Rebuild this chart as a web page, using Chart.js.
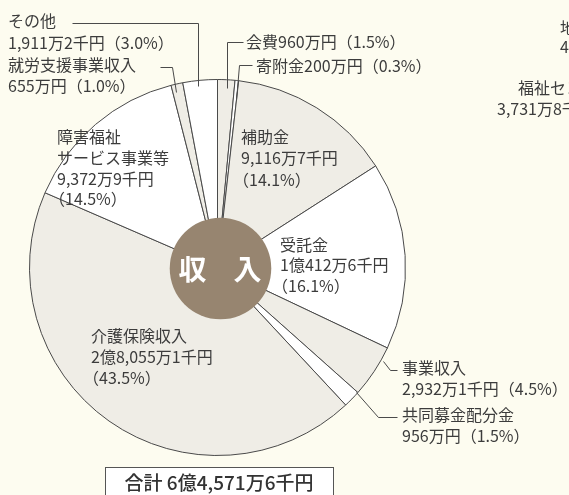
<!DOCTYPE html>
<html><head><meta charset="utf-8">
<script src="https://cdn.jsdelivr.net/npm/chart.js@4"></script>
<style>
html,body{margin:0;padding:0;background:#fdfcf0;}
#wrap{position:relative;width:569px;height:495px;overflow:hidden;}
canvas{display:block;}
</style></head>
<body><div id="wrap"><canvas id="c" width="569" height="495"></canvas></div>
<script>
// ---- data ----
const categories = ["会費","寄附金","補助金","受託金","事業収入","共同募金配分金","介護保険収入","障害福祉サービス事業等","就労支援事業収入","その他"];
const amounts = [960, 200, 9116.7, 10412.6, 2932.1, 956, 28055.1, 9372.9, 655, 1911.2]; // 万円
const amountLabels = ["960万円","200万円","9,116万7千円","1億412万6千円","2,932万1千円","956万円","2億8,055万1千円","9,372万9千円","655万円","1,911万2千円"];
const percentLabels = ["1.5%","0.3%","14.1%","16.1%","4.5%","1.5%","43.5%","14.5%","1.0%","3.0%"];
const totalLabel = "合計 6億4,571万6千円";
const centerLabel = ["収","入"];

// ---- styles ----
const GRAY = "#efede6", WHITE = "#ffffff";
const sliceColors = [GRAY, WHITE, GRAY, WHITE, GRAY, WHITE, GRAY, WHITE, GRAY, WHITE];
const FONT = '"Noto Sans CJK JP","Noto Sans",sans-serif';
const TXT = "#3c3c3c";

// label layout: lines with [x, y(center)]
const labelLayout = [
  {lines:[["会費960万円（1.5%）",246,42]], leader:[[243,42],[227,42],[227,88]]},
  {lines:[["寄附金200万円（0.3%）",256,66]], leader:[[252,65],[239,65],[236,100]]},
  {lines:[["補助金",241,137],["9,116万7千円",241,158],["（14.1%）",233,180]]},
  {lines:[["受託金",280,245],["1億412万6千円",280,265],["（16.1%）",272,286]]},
  {lines:[["事業収入",402,368],["2,932万1千円（4.5%）",402,389]], leader:[[397,370],[390,370],[383,361]]},
  {lines:[["共同募金配分金",402,415],["956万円（1.5%）",402,436]], leader:[[397,417],[378,417],[356,392]]},
  {lines:[["介護保険収入",91,336],["2億8,055万1千円",91,357],["（43.5%）",83,378]]},
  {lines:[["障害福祉",57,137],["サービス事業等",57,158],["9,372万9千円",57,179],["（14.5%）",49,199]]},
  {lines:[["就労支援事業収入",8,65],["655万円（1.0%）",8,86]], leader:[[160,67],[172,67],[176,92]]},
  {lines:[["その他",8,21],["1,911万2千円（3.0%）",8,43]], leader:[[72,23],[198,23],[198,86]]}
];
// partial texts of the neighbouring chart (cut off at the right edge)
const sideTexts = [["地域",560,28],["4",560,47],["福祉センター",518,88],["3,731万8千円",497,109]];

const overlay = {
  id:"overlay",
  beforeDraw(chart){
    const ctx = chart.ctx;
    ctx.save(); ctx.fillStyle="#fdfcf0"; ctx.fillRect(0,0,chart.width,chart.height); ctx.restore();
  },
  afterDraw(chart){
    const ctx = chart.ctx;
    const arc = chart.getDatasetMeta(0).data[0];
    const cx = arc.x, cy = arc.y, R = arc.outerRadius;
    ctx.save();
    // leaders
    ctx.strokeStyle = "#4a4a4a"; ctx.lineWidth = 1;
    labelLayout.forEach(l=>{
      if(!l.leader) return;
      ctx.beginPath();
      l.leader.forEach((p,i)=> i? ctx.lineTo(p[0]+0.5,p[1]+0.5) : ctx.moveTo(p[0]+0.5,p[1]+0.5));
      ctx.stroke();
    });
    // center circle
    ctx.fillStyle = "#978570";
    ctx.beginPath(); ctx.arc(cx+3, cy+1, R*0.27, 0, Math.PI*2); ctx.fill();
    ctx.fillStyle = "#ffffff";
    ctx.font = "bold 28px " + FONT;
    ctx.textAlign = "center"; ctx.textBaseline = "middle";
    ctx.fillText(centerLabel[0], cx-25, cy+2);
    ctx.fillText(centerLabel[1], cx+30, cy+2);
    // labels
    ctx.fillStyle = TXT;
    ctx.font = "16px " + FONT;
    ctx.textAlign = "left"; ctx.textBaseline = "middle";
    labelLayout.forEach(l=> l.lines.forEach(t=> ctx.fillText(t[0], t[1], t[2])));
    sideTexts.forEach(t=> ctx.fillText(t[0], t[1], t[2]));
    // total box
    ctx.fillStyle = "#ffffff"; ctx.strokeStyle = "#555";
    ctx.fillRect(105.5, 467.5, 228, 40); ctx.strokeRect(105.5, 467.5, 228, 40);
    ctx.fillStyle = "#333"; ctx.font = "500 19px " + FONT; ctx.textAlign = "center";
    ctx.fillText(totalLabel, 219, 483);
    ctx.restore();
  }
};

new Chart(document.getElementById("c"), {
  type: "pie",
  data: { labels: categories, datasets: [{ data: amounts, backgroundColor: sliceColors, borderColor: "#4a4a4a", borderWidth: 1, hoverOffset: 0 }] },
  options: {
    responsive: false, animation: false, devicePixelRatio: 1,
    layout: { padding: { left: 29, top: 79, right: 163, bottom: 39 } },
    plugins: { legend: { display: false }, tooltip: { enabled: false } },
    events: []
  },
  plugins: [overlay]
});
</script></body></html>
